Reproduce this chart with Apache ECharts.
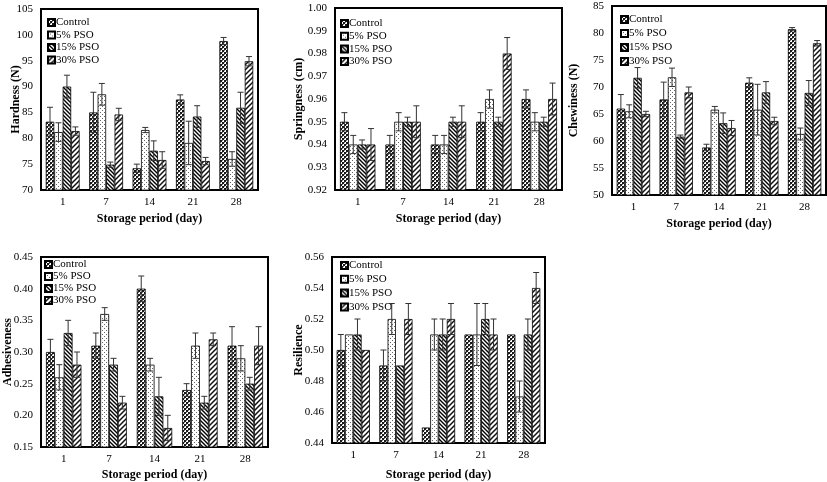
<!DOCTYPE html>
<html>
<head>
<meta charset="utf-8">
<script src="https://cdn.jsdelivr.net/npm/echarts@6/dist/echarts.min.js"></script>
<style>
html,body{margin:0;padding:0;background:#fff;}
#c{width:827px;height:482px;}
</style>
</head>
<body>
<div id="c"></div>
<script>
// ---------- DATA ----------
const days = ['1', '7', '14', '21', '28'];
const groups = ['Control', '5% PSO', '15% PSO', '30% PSO'];

const hardnessControl = [83.2, 85.0, 74.2, 87.5, 98.8];
const hardness5 = [81.2, 88.5, 81.6, 79.1, 76.0];
const hardness15 = [90.0, 74.9, 77.6, 84.2, 85.9];
const hardness30 = [81.4, 84.6, 75.8, 75.6, 94.9];
const hardnessErrControl = [2.8, 3.9, 0.8, 0.9, 0.7];
const hardnessErr5 = [1.8, 2.1, 0.5, 4.2, 1.4];
const hardnessErr15 = [2.2, 0.5, 1.9, 2.1, 3.0];
const hardnessErr30 = [0.8, 1.2, 1.6, 0.7, 0.9];

const springControl = [0.95, 0.94, 0.94, 0.95, 0.96];
const spring5 = [0.94, 0.95, 0.94, 0.96, 0.95];
const spring15 = [0.94, 0.95, 0.95, 0.95, 0.95];
const spring30 = [0.94, 0.95, 0.95, 0.98, 0.96];
const springErrControl = [0.004, 0.004, 0.004, 0.004, 0.004];
const springErr5 = [0.004, 0.004, 0.004, 0.004, 0.004];
const springErr15 = [0.002, 0.002, 0.002, 0.002, 0.002];
const springErr30 = [0.007, 0.007, 0.007, 0.007, 0.007];

const chewControl = [66.0, 67.7, 58.8, 70.8, 80.7];
const chew5 = [65.5, 71.8, 65.8, 65.8, 61.3];
const chew15 = [71.7, 60.8, 63.3, 69.0, 68.9];
const chew30 = [65.0, 69.0, 62.4, 63.7, 78.1];
const chewErrControl = [2.6, 3.2, 0.6, 0.9, 0.3];
const chewErr5 = [1.2, 1.7, 0.6, 4.7, 1.1];
const chewErr15 = [1.9, 0.3, 1.9, 2.0, 2.3];
const chewErr30 = [0.5, 1.0, 1.4, 0.7, 0.5];

const adhControl = [0.30, 0.31, 0.40, 0.24, 0.31];
const adh5 = [0.26, 0.36, 0.28, 0.31, 0.29];
const adh15 = [0.33, 0.28, 0.23, 0.22, 0.25];
const adh30 = [0.28, 0.22, 0.18, 0.32, 0.31];
const adhErrControl = [0.02, 0.02, 0.02, 0.01, 0.03];
const adhErr5 = [0.02, 0.01, 0.01, 0.02, 0.02];
const adhErr15 = [0.02, 0.01, 0.03, 0.01, 0.01];
const adhErr30 = [0.02, 0.01, 0.02, 0.01, 0.03];

const resControl = [0.50, 0.49, 0.45, 0.51, 0.51];
const res5 = [0.51, 0.52, 0.51, 0.51, 0.47];
const res15 = [0.51, 0.49, 0.51, 0.52, 0.51];
const res30 = [0.50, 0.52, 0.52, 0.51, 0.54];
const resErrControl = [0.01, 0.01, 0, 0, 0];
const resErr5 = [0, 0.01, 0.01, 0.02, 0.01];
const resErr15 = [0.01, 0, 0.01, 0.01, 0.01];
const resErr30 = [0, 0.01, 0.01, 0.01, 0.01];

const xTitle = 'Storage period (day)';
const yTitles = ['Hardness (N)', 'Springness (cm)', 'Chewiness (N)', 'Adhesiveness', 'Resilience'];

// ---------- LAYOUT ----------
const panels = [
  {vals:[hardnessControl,hardness5,hardness15,hardness30], errs:[hardnessErrControl,hardnessErr5,hardnessErr15,hardnessErr30],
   min:70, max:105, interval:5, dec:0, grid:{left:41, top:9, width:217, height:181}, gapY:19, gapX:23, lg:{left:47, top:16, gap:-0.5}},
  {vals:[springControl,spring5,spring15,spring30], errs:[springErrControl,springErr5,springErr15,springErr30],
   min:0.92, max:1.00, interval:0.01, dec:2, grid:{left:335, top:8, width:227, height:182}, gapY:30, gapX:23, lg:{left:340, top:17, gap:-0.3}},
  {vals:[chewControl,chew5,chew15,chew30], errs:[chewErrControl,chewErr5,chewErr15,chewErr30],
   min:50, max:85, interval:5, dec:0, grid:{left:612, top:6, width:214, height:189}, gapY:32, gapX:23, lg:{left:620, top:13, gap:1}},
  {vals:[adhControl,adh5,adh15,adh30], errs:[adhErrControl,adhErr5,adhErr15,adhErr30],
   min:0.15, max:0.45, interval:0.05, dec:2, grid:{left:41, top:257, width:227, height:195}, gapY:27, gapX:22, lg:{left:44, top:258, gap:-1}},
  {vals:[resControl,res5,res15,res30], errs:[resErrControl,resErr5,resErr15,resErr30],
   min:0.44, max:0.56, interval:0.02, dec:2, grid:{left:332, top:257, width:213, height:191}, gapY:27, gapX:26, lg:{left:340, top:259, gap:0.8}}
];

// ---------- PATTERNS ----------
function tile(size, draw) {
  const c = document.createElement('canvas');
  c.width = size; c.height = size;
  const ctx = c.getContext('2d');
  ctx.fillStyle = '#fff';
  ctx.fillRect(0, 0, size, size);
  draw(ctx, size);
  return {image: c, repeat: 'repeat'};
}
const patControl = tile(4, (ctx) => {
  ctx.fillStyle = '#1a1a1a';
  ctx.fillRect(0, 0, 2, 2);
  ctx.fillRect(2, 2, 2, 2);
  ctx.fillStyle = '#777';
  ctx.fillRect(2, 0, 1, 1);
  ctx.fillRect(0, 2, 1, 1);
});
const pat5 = tile(4, (ctx) => {
  ctx.fillStyle = '#666';
  ctx.fillRect(0, 0, 1, 1);
  ctx.fillRect(2, 2, 1, 1);
});
const pat15 = tile(4, (ctx, s) => {
  ctx.strokeStyle = '#000';
  ctx.lineWidth = 1.4;
  ctx.beginPath();
  ctx.moveTo(0, 0); ctx.lineTo(s, s);
  ctx.moveTo(-1, s - 1); ctx.lineTo(1, s + 1);
  ctx.moveTo(s - 1, -1); ctx.lineTo(s + 1, 1);
  ctx.stroke();
});
const pat30 = tile(5, (ctx, s) => {
  ctx.strokeStyle = '#111';
  ctx.lineWidth = 1.5;
  ctx.beginPath();
  ctx.moveTo(0, s); ctx.lineTo(s, 0);
  ctx.moveTo(-1, 1); ctx.lineTo(1, -1);
  ctx.moveTo(s - 1, s + 1); ctx.lineTo(s + 1, s - 1);
  ctx.stroke();
});
const patterns = [patControl, pat5, pat15, pat30];

const FONT = '"Liberation Serif", "Times New Roman", serif';
const CAT_GAP = 0.22;

function errRender(si) {
  return function (params, api) {
    const xi = api.value(0), v = api.value(1), e = api.value(2);
    if (!e) return null;
    const band = api.size([1, 0])[0];
    const group = band * (1 - CAT_GAP);
    const bw = group / 4;
    const cx = api.coord([xi, v])[0] - group / 2 + bw * (si + 0.5);
    const yT = api.coord([xi, v + e])[1];
    const yB = api.coord([xi, v - e])[1];
    const cap = 3;
    const st = {stroke: '#333', lineWidth: 1};
    return {type: 'group', children: [
      {type: 'line', shape: {x1: cx, y1: yT, x2: cx, y2: yB}, style: st},
      {type: 'line', shape: {x1: cx - cap, y1: yT, x2: cx + cap, y2: yT}, style: st},
      {type: 'line', shape: {x1: cx - cap, y1: yB, x2: cx + cap, y2: yB}, style: st}
    ]};
  };
}

const grids = [], xAxes = [], yAxes = [], series = [], legends = [];
panels.forEach((p, pi) => {
  grids.push(Object.assign({show: true, borderColor: '#000', borderWidth: 2, backgroundColor: '#fff', containLabel: false}, p.grid));
  xAxes.push({
    type: 'category', gridIndex: pi, data: days,
    axisLine: {show: false}, axisTick: {show: false},
    axisLabel: {margin: 7, color: '#000', fontFamily: FONT, fontSize: 11},
    name: xTitle, nameLocation: 'middle', nameGap: p.gapX, nameMoveOverlap: false,
    nameTextStyle: {color: '#000', fontFamily: FONT, fontSize: 12, fontWeight: 'bold'}
  });
  yAxes.push({
    type: 'value', gridIndex: pi, min: p.min, max: p.max, interval: p.interval,
    splitLine: {show: false}, axisLine: {show: false}, axisTick: {show: false},
    axisLabel: {margin: 8, color: '#000', fontFamily: FONT, fontSize: 11,
      formatter: (v) => Number(v).toFixed(p.dec)},
    name: yTitles[pi], nameLocation: 'middle', nameGap: p.gapY, nameRotate: 90, nameMoveOverlap: false,
    nameTextStyle: {color: '#000', fontFamily: FONT, fontSize: 12, fontWeight: 'bold'}
  });
  groups.forEach((g, si) => {
    series.push({
      type: 'bar', name: g, xAxisIndex: pi, yAxisIndex: pi,
      data: p.vals[si], barGap: '0%', barCategoryGap: (CAT_GAP * 100) + '%',
      itemStyle: {color: patterns[si], borderColor: '#000', borderWidth: 0.8},
      emphasis: {disabled: true}, z: 2
    });
  });
  groups.forEach((g, si) => {
    series.push({
      type: 'custom', xAxisIndex: pi, yAxisIndex: pi, z: 5,
      renderItem: errRender(si),
      data: p.vals[si].map((v, i) => [i, v, p.errs[si][i]]),
      silent: true
    });
  });
  legends.push({
    data: groups, orient: 'vertical', left: p.lg.left, top: p.lg.top,
    itemWidth: 7, itemHeight: 7, itemGap: p.lg.gap, icon: 'rect', padding: 0,
    selectedMode: false,
    textStyle: {color: '#000', fontFamily: FONT, fontSize: 11, lineHeight: 13, padding: [0, 0, 0, -4]}
  });
});

const chart = echarts.init(document.getElementById('c'), null, {renderer: 'canvas'});
chart.setOption({
  animation: false,
  backgroundColor: '#fff',
  grid: grids, xAxis: xAxes, yAxis: yAxes, legend: legends, series: series
});
</script>
</body>
</html>
